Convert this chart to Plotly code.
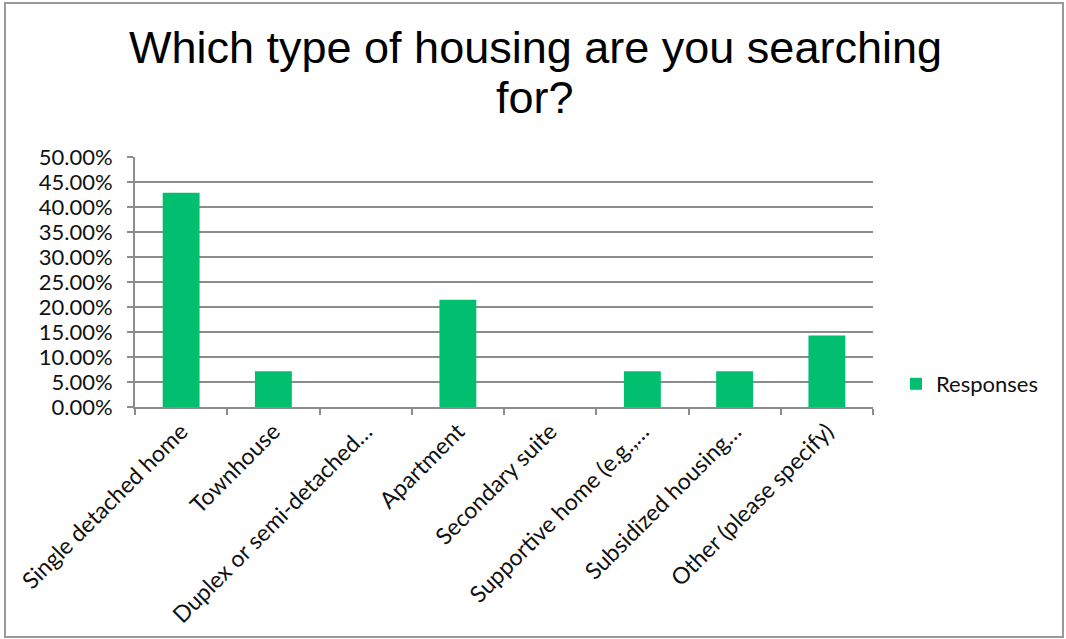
import plotly.graph_objects as go

# Survey results: share of respondents by housing type searched for
categories = [
    "Single detached home",
    "Townhouse",
    "Duplex or semi-detached…",
    "Apartment",
    "Secondary suite",
    "Supportive home (e.g.,…",
    "Subsidized housing…",
    "Other (please specify)",
]
responses = [0.4286, 0.0714, 0.0, 0.2143, 0.0, 0.0714, 0.0714, 0.1429]
y_ticks = [i * 0.05 for i in range(11)]
title_lines = ["Which type of housing are you searching", "for?"]

W, H = 1066, 639
L, R, T, B = 135, 873, 157, 407  # plot-area edges in pixels

GREEN = "#00BF6F"
GRID = "#8C8C8C"
FONT = "Lato"
TXT = "#111111"

fig = go.Figure(
    go.Bar(
        x=categories,
        y=responses,
        name="Responses",
        marker=dict(color=GREEN, line=dict(width=0)),
        width=0.4,
        showlegend=True,
    )
)

def px_to_paper_x(px):
    return (px - L) / (R - L)

def px_to_paper_y(py):
    return (B - py) / (B - T)

# outer chart frame
fig.add_shape(
    type="rect",
    xref="paper", yref="paper",
    x0=px_to_paper_x(5), x1=px_to_paper_x(1063),
    y0=px_to_paper_y(637), y1=px_to_paper_y(3),
    line=dict(color="#9A9A9A", width=2),
    fillcolor="rgba(0,0,0,0)",
    layer="below",
)

# two-line chart title, each line centred
for text, cy in zip(title_lines, [47, 97]):
    fig.add_annotation(
        text=text,
        xref="paper", yref="paper",
        x=px_to_paper_x(535), y=px_to_paper_y(cy),
        xanchor="center", yanchor="middle",
        showarrow=False,
        font=dict(family="Liberation Sans, Arial", size=45, color="#000000"),
    )

fig.update_layout(
    width=W,
    height=H,
    margin=dict(l=L, r=W - R, t=T, b=H - B, autoexpand=False),
    paper_bgcolor="white",
    plot_bgcolor="white",
    font=dict(family=FONT, size=22, color=TXT),
    bargap=0.6,
    showlegend=True,
    legend=dict(
        x=px_to_paper_x(896),
        y=px_to_paper_y(384),
        xanchor="left",
        yanchor="middle",
        font=dict(family=FONT, size=22, color=TXT),
        itemwidth=30,
        bgcolor="rgba(0,0,0,0)",
    ),
)

fig.update_xaxes(
    type="category",
    tickangle=-45,
    showline=True,
    linecolor=GRID,
    linewidth=2,
    ticks="outside",
    tickson="boundaries",
    ticklen=6,
    tickwidth=2,
    tickcolor=GRID,
    showgrid=False,
    tickfont=dict(family=FONT, size=23, color=TXT),
    fixedrange=True,
)

fig.update_yaxes(
    range=[0, 0.5],
    tickvals=y_ticks,
    tickformat=".2%",
    showline=True,
    linecolor=GRID,
    linewidth=2,
    ticks="outside",
    ticklen=6,
    tickwidth=2,
    tickcolor=GRID,
    ticklabelstandoff=10,
    showgrid=True,
    gridcolor=GRID,
    gridwidth=2,
    zeroline=False,
    tickfont=dict(family=FONT, size=22, color=TXT),
    fixedrange=True,
)

fig.write_html("out.html")
